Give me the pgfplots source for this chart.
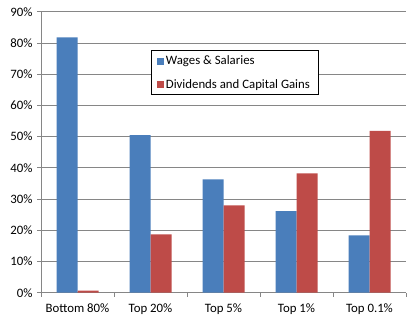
\documentclass[border=0pt]{standalone}
\usepackage{fontspec}
\setmainfont{Carlito}
\usepackage{pgfplots}
\pgfplotsset{compat=1.18}
\definecolor{barblue}{RGB}{74,126,187}
\definecolor{barred}{RGB}{190,75,72}
\definecolor{gridgray}{RGB}{134,134,134}
\begin{document}
\begin{tikzpicture}
\useasboundingbox (-41pt,-30.5pt) rectangle (371pt,292.7pt);
\begin{axis}[
  at={(0,0)}, anchor=south west,
  scale only axis, width=365pt, height=281pt,
  ybar=0pt, bar width=21pt,
  xmin=-0.5, xmax=4.5, ymin=0, ymax=90,
  xtick={0,1,2,3,4},
  xticklabels={Bottom 80\%, Top 20\%, Top 5\%, Top 1\%, Top 0.1\%},
  minor xtick={-0.5,0.5,1.5,2.5,3.5,4.5},
  ytick={0,10,...,90},
  yticklabel={\pgfmathprintnumber{\tick}\%},
  /pgf/number format/assume math mode=true,
  ymajorgrids, major grid style={gridgray, line width=0.8pt},
  axis x line*=bottom, axis y line*=left,
  axis line style={gridgray, line width=0.8pt, -},
  x axis line style={gridgray},
  major x tick style={draw=none},
  minor x tick style={gridgray, line width=0.8pt},
  y tick style={gridgray, line width=0.8pt},
  tick align=outside,
  major tick length=4pt, minor tick length=4pt,
  ticklabel style={font=\fontsize{12.8}{14}\selectfont, text=black},
  xticklabel style={yshift=-4pt},
  yticklabel style={xshift=-1pt},
  legend style={at={(0.30,0.862)}, anchor=north west, draw=black, line width=0.8pt,
    font=\fontsize{12.8}{14}\selectfont, inner xsep=6pt, inner ysep=3pt,
    row sep=9pt, cells={anchor=west}},
  legend image code/.code={\fill[#1,draw=none] (0pt,-3.5pt) rectangle (7pt,3.5pt);},
]
\addplot[fill=barblue, draw=none] coordinates {(0,81.8) (1,50.5) (2,36.3) (3,26.1) (4,18.4)};
\addplot[fill=barred, draw=none] coordinates {(0,0.7) (1,18.7) (2,28.0) (3,38.2) (4,51.8)};
\legend{Wages \& Salaries, Dividends and Capital Gains}
\end{axis}
\end{tikzpicture}
\end{document}
